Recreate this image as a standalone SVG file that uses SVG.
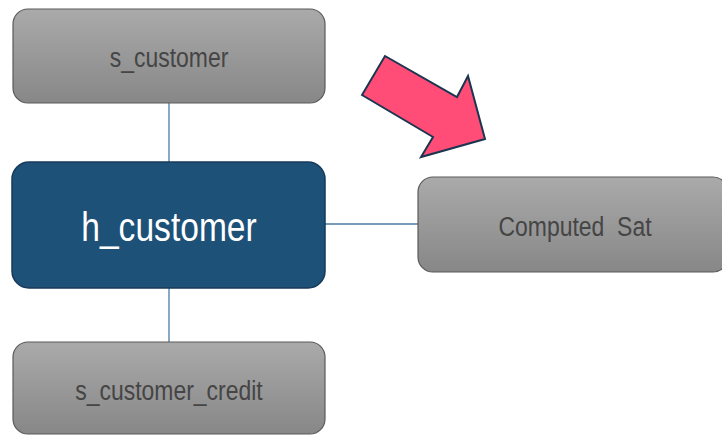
<svg xmlns="http://www.w3.org/2000/svg" width="722" height="435" viewBox="0 0 722 435">
<defs>
<linearGradient id="grey" x1="0" y1="0" x2="0" y2="1">
<stop offset="0" stop-color="#aaaaaa"/>
<stop offset="1" stop-color="#878787"/>
</linearGradient>
<style>
.g{fill:url(#grey);stroke:#5a5a5a;stroke-width:1.2}
.h{fill:#1e5178;stroke:#173a5a;stroke-width:1.5}
.t{font-family:"Liberation Sans",Arial,sans-serif;text-anchor:middle;dominant-baseline:central;white-space:pre}
.gt{fill:#454545;font-size:27px}
.ht{fill:#ffffff;font-size:40px}
.c{stroke:#4d7aa3;stroke-width:1.3;fill:none}
</style>
</defs>
<rect width="722" height="435" fill="#ffffff"/>
<g id="connectors">
<line class="c" x1="169" y1="103" x2="169" y2="162"/>
<line class="c" x1="169" y1="288" x2="169" y2="342"/>
<line class="c" x1="325" y1="224" x2="418" y2="224"/>
</g>
<g id="s_customer">
<rect class="g" x="13" y="9" width="312" height="94" rx="15"/>
<text class="t gt" transform="translate(169,57) scale(0.85,1)" xml:space="preserve">s_customer</text>
</g>
<g id="h_customer">
<rect class="h" x="12" y="162" width="313" height="126" rx="17"/>
<text class="t ht" transform="translate(169,227) scale(0.84,1)" xml:space="preserve">h_customer</text>
</g>
<g id="s_customer_credit">
<rect class="g" x="13" y="342" width="312" height="92" rx="15"/>
<text class="t gt" transform="translate(169,390) scale(0.85,1)" xml:space="preserve">s_customer_credit</text>
</g>
<g id="computed_sat">
<rect class="g" x="418" y="177" width="310" height="95" rx="15"/>
<text class="t gt" transform="translate(575,226) scale(0.85,1)" xml:space="preserve">Computed  Sat</text>
</g>
<g id="arrow">
<polygon points="362,95 385,56 457,97 468,76 485,139 421,157 433,137" fill="#ff4d78" stroke="#1a3550" stroke-width="2" stroke-linejoin="miter"/>
</g>
</svg>
